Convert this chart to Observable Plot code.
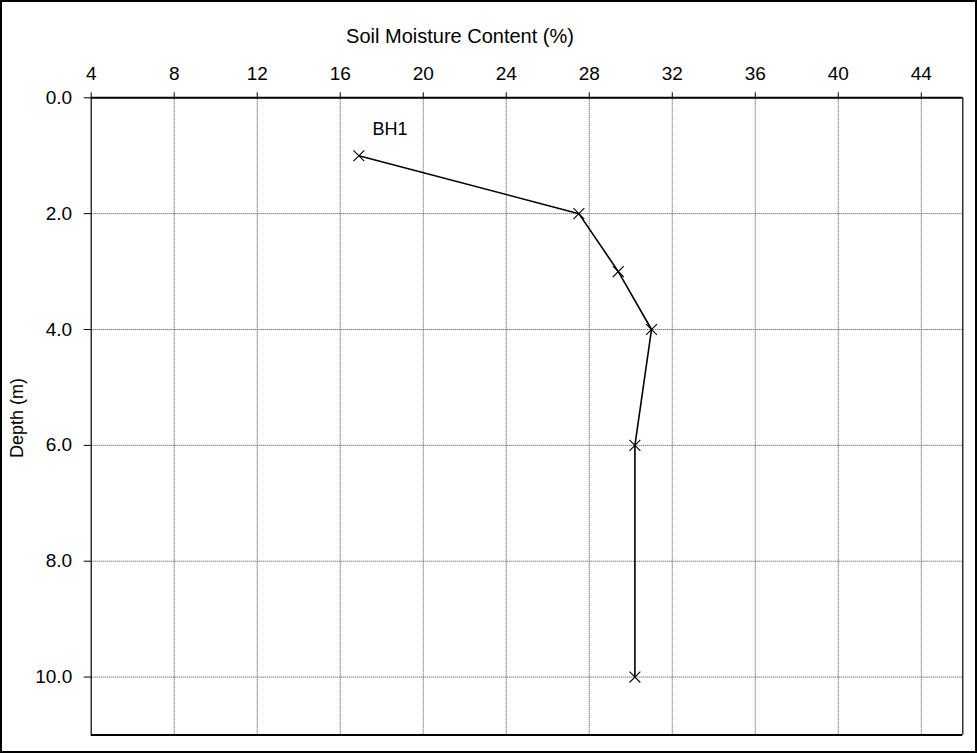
<!DOCTYPE html>
<html>
<head>
<meta charset="utf-8">
<script src="https://cdn.jsdelivr.net/npm/d3@7"></script>
<script src="https://cdn.jsdelivr.net/npm/@observablehq/plot@0.6"></script>
<style>
  html, body { margin: 0; padding: 0; background: #fff; }
</style>
</head>
<body>
<div id="chart"></div>
<script>
const depth = [1, 2, 3, 4, 6, 10];
const moisture = [16.9, 27.5, 29.4, 31.0, 30.2, 30.2];
const xTicks = [4, 8, 12, 16, 20, 24, 28, 32, 36, 40, 44];
const yTicks = [0, 2, 4, 6, 8, 10];
const xDomain = [4, 46];
const yDomain = [0, 11];
const seriesName = "BH1";
const seriesLabelAt = [18.4, 0.55];
const xTitle = "Soil Moisture Content (%)";
const yTitle = "Depth (m)";

const data = depth.map((d, i) => ({depth: d, moisture: moisture[i]}));

const W = 977, H = 753;
const FONT = "'Liberation Sans', Arial, sans-serif";
const plot = Plot.plot({
  width: W,
  height: H,
  marginLeft: 90.7,
  marginRight: 14.7,
  marginTop: 97.3,
  marginBottom: 18.5,
  style: {fontFamily: FONT, fontSize: "19px", background: "#fff", color: "#000"},
  x: {domain: xDomain},
  y: {domain: yDomain, reverse: true},
  marks: [
    Plot.ruleX(xTicks.filter(d => d > xDomain[0]), {stroke: "#444", strokeDasharray: "1,1", strokeWidth: 1}),
    Plot.ruleY(yTicks.filter(d => d > yDomain[0]), {stroke: "#444", strokeDasharray: "1,1", strokeWidth: 1}),
    Plot.ruleY(yDomain, {stroke: "#000", strokeWidth: 2}),
    Plot.ruleX(xDomain, {stroke: "#000", strokeWidth: 1.2}),
    Plot.line(data, {x: "moisture", y: "depth", stroke: "#000", strokeWidth: 1.6}),
    Plot.dot(data, {x: "moisture", y: "depth", symbol: "times", r: 5, stroke: "#000", strokeWidth: 1.1}),
    Plot.text([seriesName], {x: seriesLabelAt[0], y: seriesLabelAt[1], text: d => d, fontSize: 18, fill: "#000"}),
    Plot.axisX({anchor: "top", ticks: xTicks, tickSize: 6, tickPadding: 12, label: null, fontSize: 19}),
    Plot.axisY({anchor: "left", ticks: yTicks, tickSize: 7, tickPadding: 12, tickFormat: d => d.toFixed(1), label: null, fontSize: 19})
  ]
});

const svg = d3.select(plot);
svg.append("rect").attr("x", 1).attr("y", 1).attr("width", W - 2).attr("height", H - 2)
  .attr("fill", "none").attr("stroke", "#000").attr("stroke-width", 2);
svg.append("text").attr("x", 460).attr("y", 38).attr("text-anchor", "middle")
  .attr("dominant-baseline", "middle").attr("font-size", 20).attr("font-family", FONT)
  .attr("fill", "#000").text(xTitle);
svg.append("text").attr("transform", "translate(18,418) rotate(-90)").attr("text-anchor", "middle")
  .attr("dominant-baseline", "middle").attr("font-size", 18).attr("font-family", FONT)
  .attr("fill", "#000").text(yTitle);

document.getElementById("chart").appendChild(plot);
</script>
</body>
</html>
